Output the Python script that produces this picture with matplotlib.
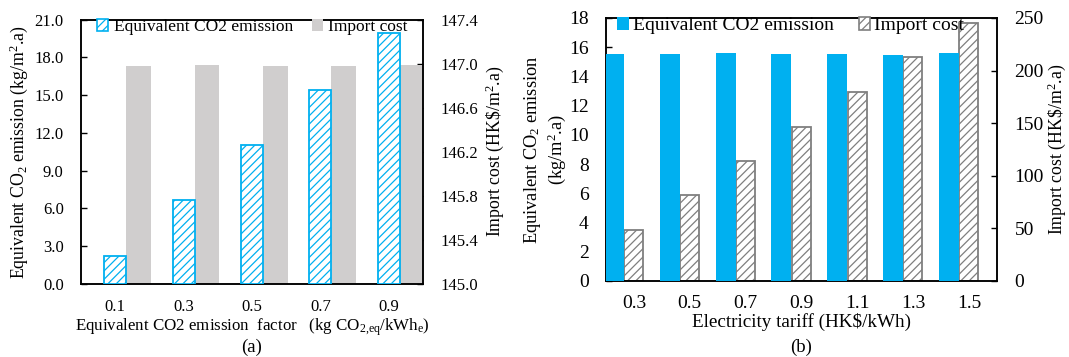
import matplotlib
matplotlib.use('Agg')
import matplotlib.pyplot as plt
from matplotlib.patches import Patch
from matplotlib.ticker import FormatStrFormatter
import numpy as np

# panel (a)
factor_labels = ['0.1', '0.3', '0.5', '0.7', '0.9']
co2_a = [2.2, 6.65, 11.05, 15.45, 19.9]
cost_a = [146.98, 146.99, 146.98, 146.98, 146.99]

# panel (b)
tariff_labels = ['0.3', '0.5', '0.7', '0.9', '1.1', '1.3', '1.5']
co2_b = [15.55, 15.55, 15.6, 15.55, 15.55, 15.5, 15.6]
cost_b = [48.5, 82, 114, 146.5, 180, 213, 245.5]

plt.rcParams['font.family'] = ['Liberation Serif', 'DejaVu Serif']
plt.rcParams['mathtext.default'] = 'regular'
plt.rcParams['hatch.linewidth'] = 0.9

blue = '#00B0F0'
grey = '#D0CECE'
dgrey = '#7F7F7F'

fig = plt.figure(figsize=(10.69, 3.57), dpi=100)

def style(ax, ax2, fs, xpad):
    for a in (ax, ax2):
        for s in a.spines.values():
            s.set_linewidth(1.1)
        a.tick_params(axis='y', direction='in', length=4, width=1, labelsize=fs, pad=12.5)
        a.tick_params(axis='x', length=0, labelsize=fs, pad=xpad)

# ---- (a)
ax = fig.add_axes([0.0758, 0.2045, 0.3199, 0.7405])
ax2 = ax.twinx()
x = np.arange(len(factor_labels))
ax.bar(x, co2_a, 0.32, color='white', edgecolor=blue, hatch='////', linewidth=1.3, zorder=3)
ax2.bar(x + 0.34, cost_a, 0.36, color=grey, zorder=2)
ax.set_zorder(ax2.get_zorder() + 1)
ax.patch.set_visible(False)
ax.set_xlim(-0.5, 4.5)
ax.set_ylim(0, 21)
ax.set_yticks(np.arange(0, 21.1, 3))
ax.yaxis.set_major_formatter(FormatStrFormatter('%.1f'))
ax2.set_ylim(145.0, 147.4)
ax2.set_yticks(np.arange(145.0, 147.41, 0.4))
ax2.yaxis.set_major_formatter(FormatStrFormatter('%.1f'))
ax.set_xticks(x)
ax.set_xticklabels(factor_labels)
style(ax, ax2, 12, 11)
ax.set_ylabel('Equivalent CO$_2$ emission (kg/m$^2$.a)', fontsize=12.8, labelpad=3)
ax2.set_ylabel('Import cost (HK\\$/m$^2$.a)', fontsize=12.8, labelpad=4)
ax.set_xlabel('Equivalent CO2 emission  factor   (kg CO$_{2{,}eq}$/kWh$_e$)', fontsize=12.2, labelpad=1)
h = [Patch(facecolor='white', edgecolor=blue, hatch='////', linewidth=1.2, label='Equivalent CO2 emission'),
     Patch(facecolor=grey, label='Import cost')]
ax.legend(handles=h, loc='center left', bbox_to_anchor=(0.047, 0.972), ncol=2, frameon=False,
          borderpad=0, borderaxespad=0,
          fontsize=12.5, handlelength=0.65, handleheight=0.65, handletextpad=0.3, columnspacing=1.1)
fig.text(0.2357, 0.028, '(a)', ha='center', va='center', fontsize=13.5)

# ---- (b)
bx = fig.add_axes([0.5669, 0.2129, 0.3658, 0.7367])
bx2 = bx.twinx()
xb = np.arange(len(tariff_labels))
bx.bar(xb - 0.36, co2_b, 0.36, color=blue, zorder=3)
bx2.bar(xb - 0.005, cost_b, 0.34, color='white', edgecolor=dgrey, hatch='////', linewidth=1.3, zorder=2)
bx.set_zorder(bx2.get_zorder() + 1)
bx.patch.set_visible(False)
bx.set_xlim(-0.5, 6.5)
bx.set_ylim(0, 18)
bx.set_yticks(np.arange(0, 18.1, 2))
bx2.set_ylim(0, 250)
bx2.set_yticks(np.arange(0, 251, 50))
bx.set_xticks(xb)
bx.set_xticklabels(tariff_labels)
style(bx, bx2, 14, 10)
bx.set_ylabel('Equivalent CO$_2$ emission\n(kg/m$^2$.a)', fontsize=13.2, labelpad=1, linespacing=1.1)
bx2.set_ylabel('Import cost (HK\\$/m$^2$.a)', fontsize=12.8, labelpad=1)
bx.set_xlabel('Electricity tariff (HK\\$/kWh)', fontsize=13.8, labelpad=1)
h = [Patch(facecolor=blue, label='Equivalent CO2 emission'),
     Patch(facecolor='white', edgecolor=dgrey, hatch='////', linewidth=1.2, label='Import cost')]
bx.legend(handles=h, loc='center left', bbox_to_anchor=(0.028, 0.97), ncol=2, frameon=False,
          borderpad=0, borderaxespad=0,
          fontsize=14, handlelength=0.6, handleheight=0.6, handletextpad=0.2, columnspacing=1.3)
fig.text(0.7498, 0.028, '(b)', ha='center', va='center', fontsize=13.5)

fig.savefig('out.png', dpi=100)
